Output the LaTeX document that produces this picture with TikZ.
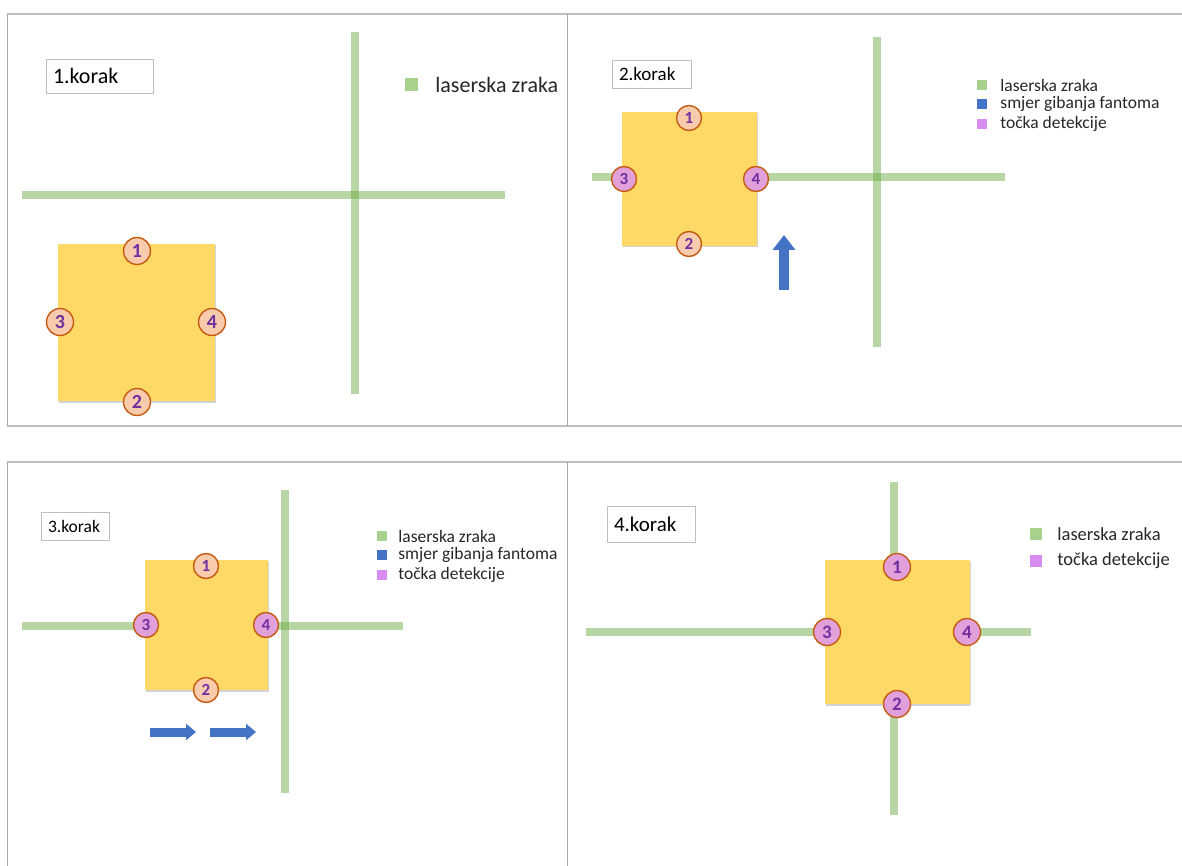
\documentclass[tikz,border=0pt]{standalone}
\usepackage{fontspec}
\setmainfont{Carlito}
\usetikzlibrary{positioning}
\usetikzlibrary{arrows.meta}
\usetikzlibrary{shadows}

\definecolor{lasergreen}{HTML}{70AD47}
\definecolor{legendgreen}{HTML}{A9D18E}
\definecolor{phantomgold}{HTML}{FFD966}
\definecolor{peach}{HTML}{F8CBAD}
\definecolor{pinkdet}{HTML}{E2A0DA}
\definecolor{violetdet}{HTML}{D78CF0}
\definecolor{rimorange}{HTML}{C55A11}
\definecolor{numpurple}{HTML}{7030A0}
\definecolor{moveblue}{HTML}{4472C4}
\definecolor{framegray}{HTML}{BFBFBF}

\begin{document}
\begin{tikzpicture}
    [
    x=1pt,y=-1pt,
    laser/.style={lasergreen,opacity=0.5,line width=8pt},
    phantom/.style={fill=phantomgold,inner sep=0pt,drop shadow={shadow xshift=1pt,shadow yshift=-1.5pt,opacity=0.35}},
    detpt/.style={circle,draw=rimorange,line width=1.4pt,fill=peach,inner sep=0pt,text=numpurple,font=\bfseries},
    detptpink/.style={detpt,fill=pinkdet},
    labelbox/.style={draw=framegray,fill=white,inner xsep=7pt,inner ysep=0pt,align=left},
    legsq/.style={inner sep=0pt},
    legtxt/.style={inner sep=0pt,text=black!85},
    movearrow/.style={moveblue,-{Triangle[width=22pt,length=15pt]}},
    frame/.style={framegray,line width=2pt},
    divider/.style={black!35,line width=0.8pt},
    ]
    \useasboundingbox (0,0) rectangle (1182,866);

    % frames
    \draw [frame] (7,14) -- (1182,14);
    \draw [frame] (7,426) -- (1182,426);
    \draw [frame] (7,462) -- (1182,462);
    \draw [divider] (7,14) -- (7,426);
    \draw [divider] (567,14) -- (567,426);
    \draw [divider] (7,462) -- (7,866);
    \draw [divider] (567,462) -- (567,866);

    % 1.korak
    \draw [laser] (22,195) -- (505,195);
    \draw [laser] (355,32) -- (355,394);
    \node (sq1) at (136.5,322.5) [phantom,minimum width=157pt,minimum height=157pt] {};
    \node (p11) at (137,251) [detpt,minimum size=27pt,font=\fontsize{20}{20}\selectfont\bfseries] {1};
    \node (p12) at (137,402) [detpt,minimum size=27pt,font=\fontsize{20}{20}\selectfont\bfseries] {2};
    \node (p13) at (60,322) [detpt,minimum size=27pt,font=\fontsize{20}{20}\selectfont\bfseries] {3};
    \node (p14) at (212,322) [detpt,minimum size=27pt,font=\fontsize{20}{20}\selectfont\bfseries] {4};
    \node (lab1) at (99.5,76) [labelbox,minimum height=34pt,text width=93pt,font=\fontsize{22}{22}\selectfont] {1.korak};
    \node (lg11) at (411.5,85) [legsq,fill=legendgreen,minimum size=13pt] {};
    \node (lt11) [legtxt,right=17pt of lg11,font=\fontsize{22}{22}\selectfont] {laserska zraka};

    % 2.korak
    \draw [laser] (592,177) -- (1005,177);
    \draw [laser] (877,37) -- (877,347);
    \node (sq2) at (689.5,179) [phantom,minimum width=135pt,minimum height=134pt] {};
    \node (p21) at (689,118) [detpt,minimum size=25pt,font=\fontsize{17}{17}\selectfont\bfseries] {1};
    \node (p22) at (689,244) [detpt,minimum size=25pt,font=\fontsize{17}{17}\selectfont\bfseries] {2};
    \node (p23) at (624,179) [detptpink,minimum size=25pt,font=\fontsize{17}{17}\selectfont\bfseries] {3};
    \node (p24) at (756,179) [detptpink,minimum size=25pt,font=\fontsize{17}{17}\selectfont\bfseries] {4};
    \draw [movearrow,line width=10pt] (784,290) -- (784,235);
    \node (lab2) at (651.5,74) [labelbox,minimum height=28pt,text width=65pt,font=\fontsize{19}{19}\selectfont] {2.korak};
    \node (lg21) at (982,85) [legsq,fill=legendgreen,minimum size=10pt] {};
    \node (lg22) at (982,104) [legsq,fill=moveblue,minimum size=10pt] {};
    \node (lg23) at (982,124) [legsq,fill=violetdet,minimum size=10pt] {};
    \node (lt21) [legtxt,right=13pt of lg21,font=\fontsize{17.5}{17.5}\selectfont] {laserska zraka};
    \node (lt22) [legtxt,right=13pt of lg22,font=\fontsize{17.5}{17.5}\selectfont] {smjer gibanja fantoma};
    \node (lt23) [legtxt,right=13pt of lg23,font=\fontsize{17.5}{17.5}\selectfont] {točka detekcije};

    % 3.korak
    \draw [laser] (22,626) -- (403,626);
    \draw [laser] (285,490) -- (285,793);
    \node (sq3) at (206.5,625) [phantom,minimum width=123pt,minimum height=130pt] {};
    \node (p31) at (206,566) [detpt,minimum size=25pt,font=\fontsize{17}{17}\selectfont\bfseries] {1};
    \node (p32) at (206,690) [detpt,minimum size=25pt,font=\fontsize{17}{17}\selectfont\bfseries] {2};
    \node (p33) at (146,625) [detptpink,minimum size=25pt,font=\fontsize{17}{17}\selectfont\bfseries] {3};
    \node (p34) at (266,625) [detptpink,minimum size=25pt,font=\fontsize{17}{17}\selectfont\bfseries] {4};
    \draw [moveblue,line width=9pt,-{Triangle[width=16pt,length=10pt]}] (150,732) -- (196,732);
    \draw [moveblue,line width=9pt,-{Triangle[width=16pt,length=10pt]}] (210,732) -- (256,732);
    \node (lab3) at (75,526) [labelbox,minimum height=28pt,text width=54pt,font=\fontsize{17.5}{17.5}\selectfont] {3.korak};
    \node (lg31) at (382,536) [legsq,fill=legendgreen,minimum size=10pt] {};
    \node (lg32) at (382,555) [legsq,fill=moveblue,minimum size=10pt] {};
    \node (lg33) at (382,575) [legsq,fill=violetdet,minimum size=10pt] {};
    \node (lt31) [legtxt,right=11pt of lg31,font=\fontsize{17.5}{17.5}\selectfont] {laserska zraka};
    \node (lt32) [legtxt,right=11pt of lg32,font=\fontsize{17.5}{17.5}\selectfont] {smjer gibanja fantoma};
    \node (lt33) [legtxt,right=11pt of lg33,font=\fontsize{17.5}{17.5}\selectfont] {točka detekcije};

    % 4.korak
    \draw [laser] (586,632) -- (1031,632);
    \draw [laser] (894,482) -- (894,815);
    \node (sq4) at (897.5,632) [phantom,minimum width=145pt,minimum height=144pt] {};
    \node (p41) at (897,567) [detptpink,minimum size=27pt,font=\fontsize{19}{19}\selectfont\bfseries] {1};
    \node (p42) at (897,704) [detptpink,minimum size=27pt,font=\fontsize{19}{19}\selectfont\bfseries] {2};
    \node (p43) at (827,632) [detptpink,minimum size=27pt,font=\fontsize{19}{19}\selectfont\bfseries] {3};
    \node (p44) at (967,632) [detptpink,minimum size=27pt,font=\fontsize{19}{19}\selectfont\bfseries] {4};
    \node (lab4) at (651,524) [labelbox,minimum height=36pt,text width=74pt,font=\fontsize{21}{21}\selectfont] {4.korak};
    \node (lg41) at (1036,534) [legsq,fill=legendgreen,minimum size=12pt] {};
    \node (lg42) at (1036,561) [legsq,fill=violetdet,minimum size=12pt] {};
    \node (lt41) [legtxt,right=15pt of lg41,font=\fontsize{18.5}{18.5}\selectfont] {laserska zraka};
    \node (lt42) [legtxt,right=15pt of lg42,font=\fontsize{18.5}{18.5}\selectfont] {točka detekcije};
  \end{tikzpicture}
\end{document}
